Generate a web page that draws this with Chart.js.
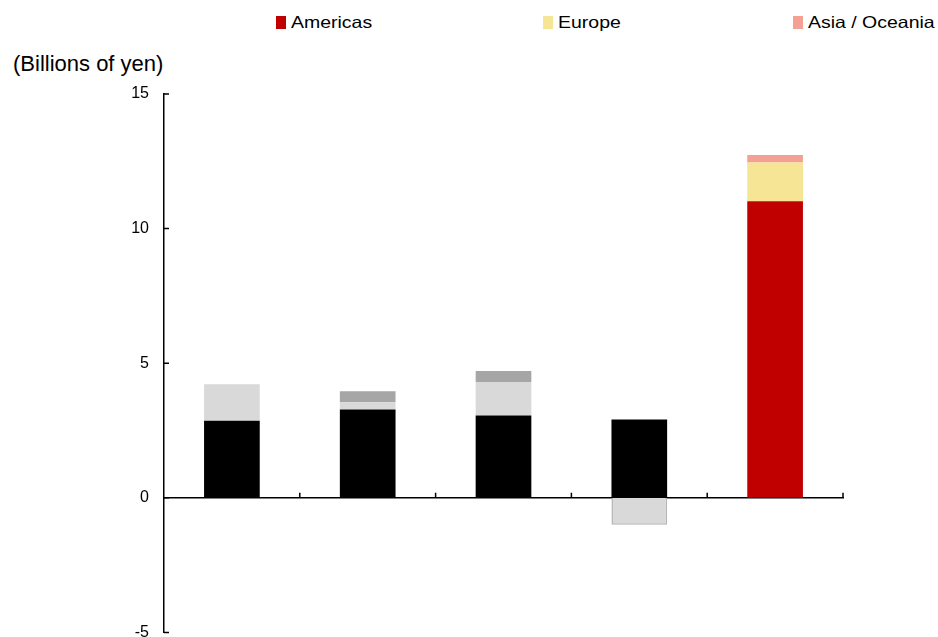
<!DOCTYPE html>
<html>
<head>
<meta charset="utf-8">
<script src="https://cdn.jsdelivr.net/npm/chart.js@4.4.1/dist/chart.umd.min.js"></script>
<style>
  html, body { margin: 0; padding: 0; background: #fff; overflow: hidden; }
  body { width: 938px; height: 637px; position: relative; font-family: "Liberation Sans", Arial, sans-serif; }
  #wrap { position: absolute; left: 0; top: 0; width: 938px; height: 657px; }
  #unit { position: absolute; left: 13px; top: 53px; font-size: 22px; line-height: 1; color: #000; white-space: nowrap; }
  .leg { position: absolute; top: 0; height: 40px; }
  .leg .box { position: absolute; top: 16px; left: 0; width: 10px; height: 13px; }
  .leg .txt { position: absolute; top: 14px; left: 15px; font-size: 16.5px; line-height: 1; white-space: nowrap;
              transform: scaleX(1.18); transform-origin: left top; color: #000; }
</style>
</head>
<body>
<div id="legend"></div>
<div id="unit">(Billions of yen)</div>
<div id="wrap"><canvas id="chart"></canvas></div>
<script>
// categories have no visible labels in the picture
const categories = ['', '', '', '', ''];

// series values (billions of yen)
const americas = [2.86, 3.28, 3.06, 2.91, 11.02];
const europe   = [1.36, 0.27, 1.24, -1.0, 1.44];
const asia     = [0, 0.41, 0.41, 0, 0.27];

const seriesNames = ['Americas', 'Europe', 'Asia / Oceania'];
const tickValues = [-5, 0, 5, 10, 15];

// first four bars are greyscale, the last one in colour
const americasColors = ['#000000', '#000000', '#000000', '#000000', '#C00000'];
const europeColors   = ['#D9D9D9', '#D9D9D9', '#D9D9D9', '#D9D9D9', '#F6E594'];
const asiaColors     = ['#A6A6A6', '#A6A6A6', '#A6A6A6', '#A6A6A6', '#F4A193'];

// legend: built in html so the wide spacing can be kept
const legendLeft = [276, 543, 793];
const legendColors = [americasColors[4], europeColors[4], asiaColors[4]];
const legendDiv = document.getElementById('legend');
seriesNames.forEach((name, i) => {
    const item = document.createElement('div');
    item.className = 'leg';
    item.style.left = legendLeft[i] + 'px';
    item.innerHTML = `<div class="box" style="background:${legendColors[i]}"></div><div class="txt">${name}</div>`;
    legendDiv.appendChild(item);
});

// small inward tick marks on both axes
const innerTicks = {
    id: 'innerTicks',
    afterDraw(chart) {
        const ctx = chart.ctx;
        const area = chart.chartArea;
        const x = chart.scales.x;
        const y = chart.scales.y;
        const y0 = y.getPixelForValue(0);
        ctx.save();
        ctx.strokeStyle = '#000';
        ctx.lineWidth = 1.5;
        ctx.beginPath();
        tickValues.forEach(v => {
            const py = y.getPixelForValue(v);
            ctx.moveTo(area.left, py);
            ctx.lineTo(area.left + 5, py);
        });
        const step = (x.right - x.left) / categories.length;
        for (let i = 1; i <= categories.length; i++) {
            const px = x.left + i * step;
            ctx.moveTo(px, y0);
            ctx.lineTo(px, y0 - 5);
        }
        ctx.stroke();
        ctx.restore();
    }
};

const ctx = document.getElementById('chart').getContext('2d');
new Chart(ctx, {
    type: 'bar',
    data: {
        labels: categories,
        datasets: [
            { label: seriesNames[0], data: americas, backgroundColor: americasColors, borderWidth: 0 },
            { label: seriesNames[1], data: europe, backgroundColor: europeColors,
              borderColor: '#B5B5B5', borderWidth: [0, 0, 0, 1.5, 0] },
            { label: seriesNames[2], data: asia, backgroundColor: asiaColors, borderWidth: 0 }
        ]
    },
    options: {
        responsive: true,
        maintainAspectRatio: false,
        animation: false,
        barPercentage: 0.41,
        categoryPercentage: 1,
        layout: { padding: { top: 94, right: 95, bottom: 3, left: 0 } },
        plugins: {
            legend: { display: false },
            tooltip: { enabled: false }
        },
        scales: {
            x: {
                stacked: true,
                position: { y: 0 },
                grid: { display: false, drawTicks: false },
                ticks: { display: false },
                border: { display: true, color: '#000', width: 1.5 }
            },
            y: {
                stacked: true,
                min: -5,
                max: 15,
                grid: { display: false, drawTicks: false },
                border: { display: true, color: '#000', width: 1.5 },
                ticks: {
                    stepSize: 5,
                    padding: 15,
                    color: '#000',
                    font: { family: 'Liberation Sans', size: 16 }
                },
                afterFit(scale) { scale.width = 164; }
            }
        }
    },
    plugins: [innerTicks]
});
</script>
</body>
</html>
